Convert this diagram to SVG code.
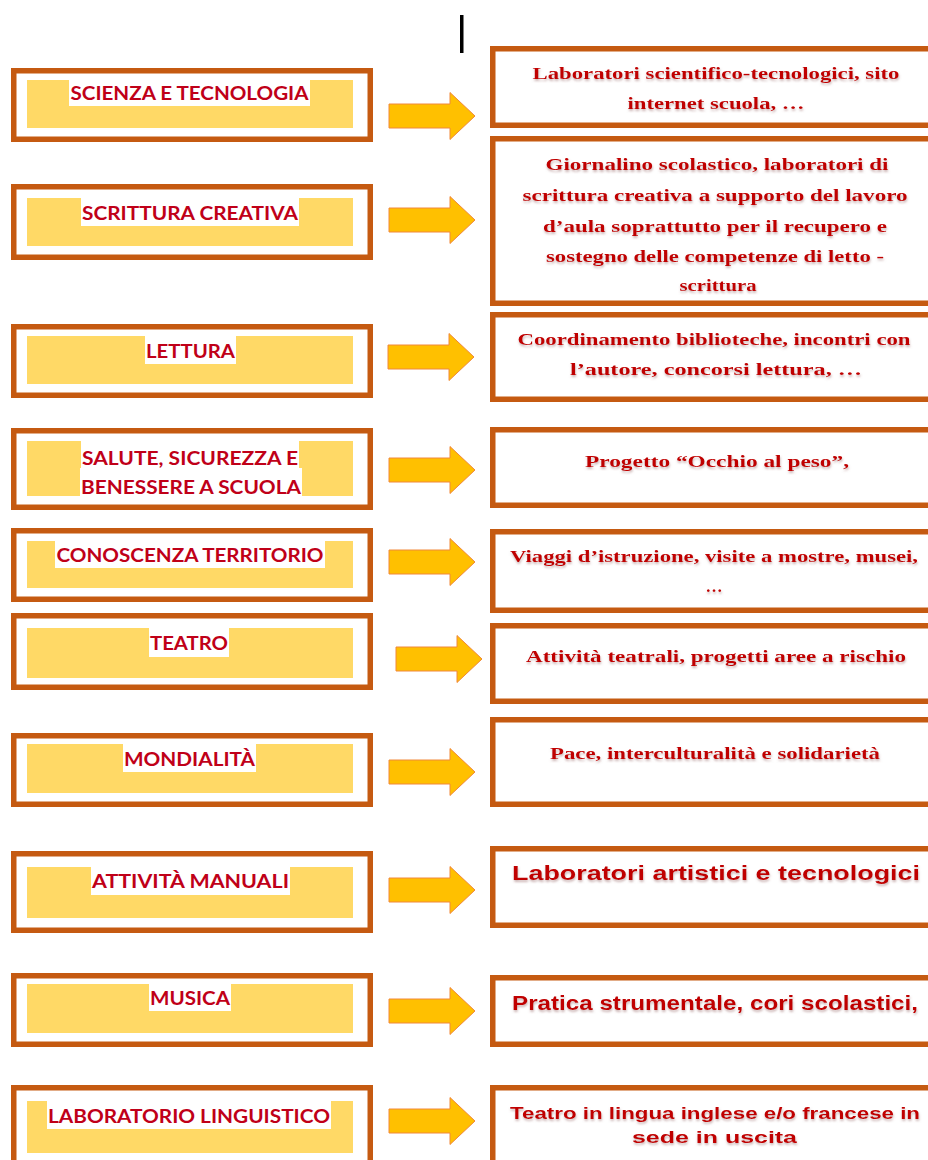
<svg xmlns="http://www.w3.org/2000/svg" xmlns:xlink="http://www.w3.org/1999/xlink" width="928" height="1160" viewBox="0 0 928 1160">
<style>
.lbox{fill:#ffffff;stroke:#C55A11;stroke-width:5.5}
.ybg{fill:#FFD966}
.wbg{fill:#ffffff}
.ltxt{font-family:Lato,"Open Sans","Liberation Sans",sans-serif;font-weight:bold;font-size:19px;fill:#C00018;text-anchor:middle}
.rbox{fill:#ffffff;stroke:#C55A11;stroke-width:5.5}
.rtxt{font-family:"Liberation Serif","DejaVu Serif",serif;font-weight:bold;font-size:17px;fill:#C00000;text-anchor:middle;filter:url(#sh)}
.stxt{font-family:"Liberation Sans",Arial,sans-serif;font-weight:bold;fill:#C00000;text-anchor:middle;filter:url(#sh)}
.arr{fill:#FFC000;stroke:#F0883A;stroke-width:1}
</style>
<defs>
<filter id="sh" x="-5%" y="-30%" width="110%" height="180%">
<feDropShadow dx="0.5" dy="2" stdDeviation="1" flood-color="#9a6a6a" flood-opacity="0.5"/>
</filter>
<path id="arrow" d="M0,-12 H61 V-23.5 L86,0 L61,23.5 V12 H0 Z"/>
</defs>
<rect width="928" height="1160" fill="#ffffff"/>
<rect x="460" y="15" width="3.5" height="38" fill="#000000"/>

<g id="L1"><rect class="lbox" x="13.75" y="70.75" width="356.5" height="68.5"/><rect class="ybg" x="27" y="80" width="326" height="48"/><rect class="wbg" x="69" y="80" width="241" height="26"/><text class="ltxt" x="189.5" y="100" textLength="238" lengthAdjust="spacingAndGlyphs">SCIENZA E TECNOLOGIA</text></g>
<g id="L2"><rect class="lbox" x="13.75" y="186.75" width="356.5" height="70.5"/><rect class="ybg" x="27" y="198" width="326" height="48"/><rect class="wbg" x="81" y="198" width="218" height="28"/><text class="ltxt" x="190" y="220" textLength="216" lengthAdjust="spacingAndGlyphs">SCRITTURA CREATIVA</text></g>
<g id="L3"><rect class="lbox" x="13.75" y="326.75" width="356.5" height="68.5"/><rect class="ybg" x="27" y="336" width="326" height="48"/><rect class="wbg" x="145" y="336" width="91" height="28"/><text class="ltxt" x="190.5" y="358" textLength="89" lengthAdjust="spacingAndGlyphs">LETTURA</text></g>
<g id="L4"><rect class="lbox" x="13.75" y="430.75" width="356.5" height="76.5"/><rect class="ybg" x="27" y="441" width="326" height="55"/><rect class="wbg" x="81" y="441" width="218" height="27"/><rect class="wbg" x="80" y="468" width="222" height="28"/><text class="ltxt" x="190" y="465" textLength="216" lengthAdjust="spacingAndGlyphs">SALUTE, SICUREZZA E</text><text class="ltxt" x="191" y="494" textLength="220" lengthAdjust="spacingAndGlyphs">BENESSERE A SCUOLA</text></g>
<g id="L5"><rect class="lbox" x="13.75" y="530.75" width="356.5" height="68.5"/><rect class="ybg" x="27" y="541" width="326" height="47"/><rect class="wbg" x="55" y="541" width="270" height="27"/><text class="ltxt" x="190" y="562" textLength="267" lengthAdjust="spacingAndGlyphs">CONOSCENZA  TERRITORIO</text></g>
<g id="L6"><rect class="lbox" x="13.75" y="615.75" width="356.5" height="71.5"/><rect class="ybg" x="27" y="628" width="326" height="50"/><rect class="wbg" x="149" y="628" width="80" height="29"/><text class="ltxt" x="189" y="650" textLength="78" lengthAdjust="spacingAndGlyphs">TEATRO</text></g>
<g id="L7"><rect class="lbox" x="13.75" y="735.75" width="356.5" height="68.5"/><rect class="ybg" x="27" y="744" width="326" height="49"/><rect class="wbg" x="123" y="744" width="133" height="28"/><text class="ltxt" x="189.5" y="766" textLength="131" lengthAdjust="spacingAndGlyphs">MONDIALITÀ</text></g>
<g id="L8"><rect class="lbox" x="13.75" y="853.75" width="356.5" height="76.5"/><rect class="ybg" x="27" y="867" width="326" height="51"/><rect class="wbg" x="91" y="867" width="199" height="28"/><text class="ltxt" x="190.5" y="888" textLength="197" lengthAdjust="spacingAndGlyphs">ATTIVITÀ  MANUALI</text></g>
<g id="L9"><rect class="lbox" x="13.75" y="975.75" width="356.5" height="68.5"/><rect class="ybg" x="27" y="984" width="326" height="49"/><rect class="wbg" x="149" y="984" width="82" height="27"/><text class="ltxt" x="190" y="1005" textLength="80" lengthAdjust="spacingAndGlyphs">MUSICA</text></g>
<g id="L10"><rect class="lbox" x="13.75" y="1087.75" width="356.5" height="90"/><rect class="ybg" x="27" y="1101" width="326" height="52"/><rect class="wbg" x="47" y="1101" width="284" height="28"/><text class="ltxt" x="189" y="1123" textLength="282" lengthAdjust="spacingAndGlyphs">LABORATORIO  LINGUISTICO</text></g>

<g id="connectors">
<use xlink:href="#arrow" class="arr" x="389" y="116"/>
<use xlink:href="#arrow" class="arr" x="389" y="220"/>
<use xlink:href="#arrow" class="arr" x="388" y="357"/>
<use xlink:href="#arrow" class="arr" x="389" y="470"/>
<use xlink:href="#arrow" class="arr" x="389" y="562"/>
<use xlink:href="#arrow" class="arr" x="396" y="659"/>
<use xlink:href="#arrow" class="arr" x="389" y="772"/>
<use xlink:href="#arrow" class="arr" x="389" y="890"/>
<use xlink:href="#arrow" class="arr" x="389" y="1011"/>
<use xlink:href="#arrow" class="arr" x="389" y="1121"/>
</g>

<g id="R1"><rect class="rbox" x="492.75" y="48.75" width="460" height="76.5"/><text class="rtxt" x="716" y="79" textLength="367" lengthAdjust="spacingAndGlyphs">Laboratori scientifico-tecnologici, sito</text><text class="rtxt" x="716" y="109" textLength="177" lengthAdjust="spacingAndGlyphs">internet scuola, …</text></g>
<g id="R2"><rect class="rbox" x="492.75" y="138.75" width="460" height="164.5"/><text class="rtxt" x="717" y="170" textLength="343" lengthAdjust="spacingAndGlyphs">Giornalino scolastico, laboratori di</text><text class="rtxt" x="715" y="201" textLength="385" lengthAdjust="spacingAndGlyphs">scrittura creativa a supporto del lavoro</text><text class="rtxt" x="715" y="232" textLength="344" lengthAdjust="spacingAndGlyphs">d’aula soprattutto per il recupero e</text><text class="rtxt" x="715" y="262" textLength="338" lengthAdjust="spacingAndGlyphs">sostegno delle competenze di letto -</text><text class="rtxt" x="718" y="291" textLength="77" lengthAdjust="spacingAndGlyphs">scrittura</text></g>
<g id="R3"><rect class="rbox" x="492.75" y="314.75" width="460" height="84.5"/><text class="rtxt" x="714" y="345" textLength="393" lengthAdjust="spacingAndGlyphs">Coordinamento biblioteche, incontri con</text><text class="rtxt" x="716" y="375" textLength="292" lengthAdjust="spacingAndGlyphs">l’autore, concorsi lettura, …</text></g>
<g id="R4"><rect class="rbox" x="492.75" y="429.75" width="460" height="75.5"/><text class="rtxt" x="717" y="467" textLength="264" lengthAdjust="spacingAndGlyphs">Progetto “Occhio al peso”,</text></g>
<g id="R5"><rect class="rbox" x="492.75" y="531.75" width="460" height="78.5"/><text class="rtxt" x="714" y="562" textLength="408" lengthAdjust="spacingAndGlyphs">Viaggi d’istruzione, visite a mostre, musei,</text><text class="rtxt" x="714" y="592">…</text></g>
<g id="R6"><rect class="rbox" x="492.75" y="625.75" width="460" height="75.5"/><text class="rtxt" x="716" y="662" textLength="380" lengthAdjust="spacingAndGlyphs">Attività teatrali, progetti aree a rischio</text></g>
<g id="R7"><rect class="rbox" x="492.75" y="719.75" width="460" height="84.5"/><text class="rtxt" x="715" y="759" textLength="330" lengthAdjust="spacingAndGlyphs">Pace, interculturalità e solidarietà</text></g>
<g id="R8"><rect class="rbox" x="492.75" y="848.75" width="460" height="76.5"/><text class="stxt" x="716" y="880" font-size="20" textLength="408" lengthAdjust="spacingAndGlyphs">Laboratori artistici e tecnologici</text></g>
<g id="R9"><rect class="rbox" x="492.75" y="977.75" width="460" height="66.5"/><text class="stxt" x="715" y="1010" font-size="20" textLength="406" lengthAdjust="spacingAndGlyphs">Pratica strumentale, cori scolastici,</text></g>
<g id="R10"><rect class="rbox" x="492.75" y="1087.75" width="460" height="90"/><text class="stxt" x="715" y="1119" font-size="17" textLength="410" lengthAdjust="spacingAndGlyphs">Teatro in lingua inglese e/o francese  in</text><text class="stxt" x="714.5" y="1143" font-size="17" textLength="165" lengthAdjust="spacingAndGlyphs">sede  in uscita</text></g>
</svg>
